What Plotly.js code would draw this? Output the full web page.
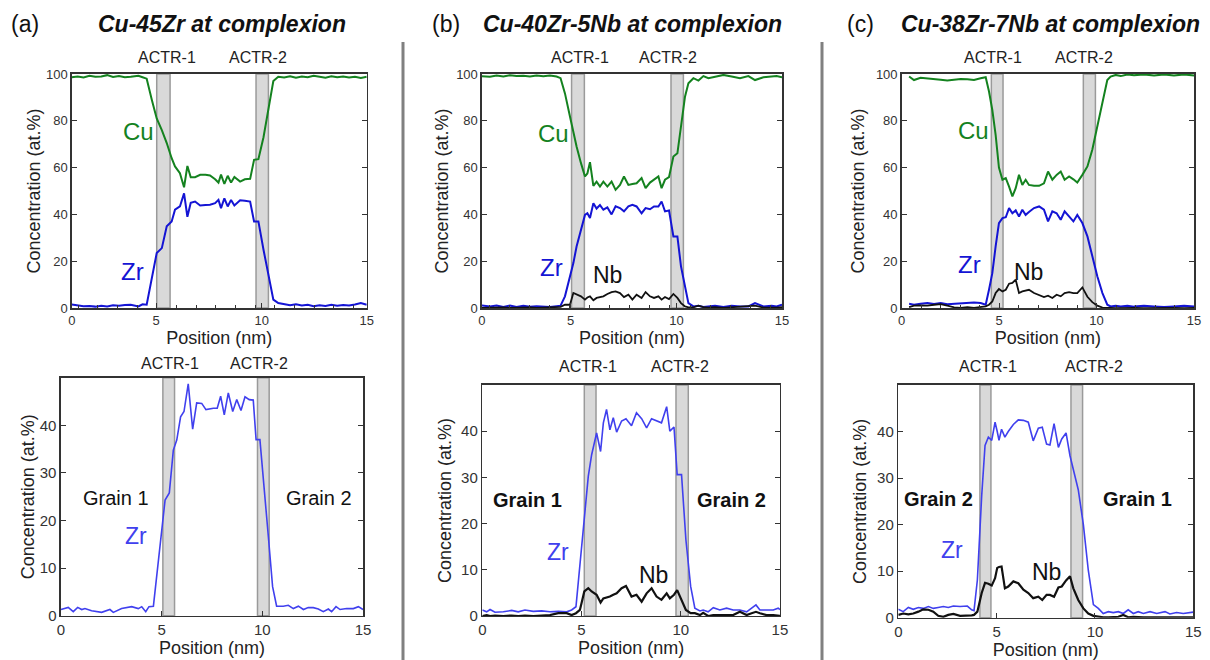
<!DOCTYPE html>
<html>
<head>
<meta charset="utf-8">
<script src="https://cdn.plot.ly/plotly-3.0.1.min.js"></script>
<style>html,body{margin:0;padding:0;background:#fff;}#chart{width:1210px;height:660px;}</style>
</head>
<body>
<div id="chart"></div>
<script>
// ---------------- DATA ----------------
// (a) Cu-45Zr, top panel
const aTop_x  = [0,0.3,0.6,0.9,1.2,1.5,1.8,2.1,2.4,2.7,3.0,3.39,3.6,3.81,4.07,4.32,4.58,4.83,5.08,5.25,5.5,5.71,5.88,6.05,6.27,6.53,6.8,7.03,7.29,7.46,7.59,7.76,7.93,8.1,8.27,8.42,8.56,8.8,9.07,9.27,9.49,9.75,10.0,10.25,10.5,10.8,11.1,11.4,11.7,12.0,12.3,12.6,12.9,13.2,13.5,13.8,14.1,14.4,14.7,15.0];
const aTop_cu = [98.6,98.9,98.5,99.2,98.8,98.9,99.5,98.7,99.1,98.6,98.8,99.2,98.6,98.0,89.0,81.0,76.0,70.5,64.0,60.5,57.6,51.6,60.7,55.9,55.9,56.9,56.9,56.6,55.0,53.6,57.0,53.0,56.5,53.6,56.0,54.8,54.0,55.0,55.2,63.3,63.6,73.0,86.0,97.0,98.8,98.5,99.0,98.4,98.9,98.6,99.2,98.7,98.4,99.0,98.6,98.9,98.5,98.8,98.3,98.8];
const aTop_zr = [1.5,1.2,0.8,0.9,0.6,1.0,0.7,1.2,1.0,1.3,1.4,0.7,1.6,1.4,13.5,23.5,25.6,34.9,37.0,42.0,43.4,49.0,39.0,45.0,45.5,43.8,44.0,44.1,44.8,46.2,42.7,46.9,43.4,46.2,43.8,45.0,46.0,45.8,45.5,37.0,37.0,24.9,13.5,3.6,2.1,1.5,1.2,1.6,1.1,1.4,0.8,1.2,0.9,1.4,1.0,1.3,1.1,1.5,2.1,1.4];
// (b) Cu-40Zr-5Nb, top panel
const bTop_x  = [0,0.4,0.73,1.07,1.4,1.73,2.07,2.4,2.73,3.07,3.4,3.73,3.93,4.15,4.4,4.57,4.73,4.95,5.15,5.27,5.4,5.57,5.73,5.9,6.07,6.27,6.48,6.68,6.9,7.1,7.32,7.52,7.73,7.98,8.18,8.4,8.6,8.82,8.98,9.15,9.35,9.57,9.77,9.95,10.15,10.32,10.57,10.82,11.07,11.32,11.65,12.07,12.48,12.9,13.32,13.65,14.07,14.48,14.73,15];
const bTop_cu = [99.0,98.8,99.3,98.9,99.5,99.1,99.2,98.9,99.3,99.0,99.3,98.9,98.2,91.7,81.8,74.7,69.0,61.9,56.2,57.5,62.3,52.2,54.0,51.9,54.0,51.9,54.0,50.5,52.6,56.2,52.6,53.0,53.3,55.5,51.2,53.6,54.8,56.2,51.2,54.8,55.9,64.7,66.1,77.5,90.3,96.0,98.2,97.2,99.1,98.2,98.9,99.6,98.9,98.2,99.1,97.4,98.6,99.1,99.1,98.6];
const bTop_zr = [1.1,0.7,1.1,0.4,1.1,0.4,1.0,0.5,0.8,0.6,0.4,0.8,1.0,5.0,13.5,19.2,26.3,33.4,39.8,40.5,38.5,44.8,42.5,44.0,42.0,43.0,40.0,43.5,42.7,41.3,43.4,44.1,43.4,40.5,42.7,42.2,43.4,43.4,45.5,41.3,41.7,30.6,30.6,17.8,9.2,2.1,0.7,1.0,0.4,0.7,1.0,0.4,1.0,0.7,0.7,2.1,0.7,1.0,0.7,1.4];
const bTop_nb = [0,0.2,0.1,0.3,0.1,0.2,0.1,0.3,0.1,0.2,0.1,0.3,0.5,1.4,1.4,6.4,5.7,5.0,3.6,4.5,5.0,3.3,4.3,4.6,5.0,6.0,6.8,7.1,6.4,4.7,5.7,3.6,5.7,4.3,6.8,5.0,4.3,5.0,3.6,4.7,3.8,6.0,4.3,2.1,0.7,0.3,0.3,1.0,0.4,0.2,0.4,0.1,0.3,0.4,0.6,1.0,0.2,0.1,0.2,0.4];
// (c) Cu-38Zr-7Nb, top panel
const cTop_x  = [0.38,0.63,0.97,1.32,1.66,2.0,2.34,2.69,3.03,3.37,3.71,4.05,4.31,4.48,4.65,4.82,4.99,5.17,5.34,5.51,5.68,5.85,6.02,6.19,6.36,6.53,6.79,7.05,7.3,7.51,7.73,7.95,8.16,8.36,8.59,8.81,9.01,9.27,9.53,9.78,10.04,10.3,10.55,10.72,10.98,11.24,11.58,11.92,12.43,12.95,13.46,13.97,14.49,15];
const cTop_cu = [98.9,97.4,98.4,98.2,97.9,97.5,97.2,97.6,97.9,97.8,97.4,98.2,98.6,92.5,84.6,74.0,60.0,54.8,55.5,51.9,47.7,51.2,56.9,52.6,54.8,52.6,52.2,52.2,53.3,58.3,54.8,56.9,58.3,54.8,56.2,55.0,53.6,56.9,60.5,67.6,77.5,88.2,97.4,98.9,99.6,99.1,99.8,99.5,99.8,99.4,99.8,99.4,99.8,99.4];
const cTop_zr = [1.8,1.4,1.8,2.1,1.7,2.1,1.6,1.8,2.1,2.1,2.4,2.1,1.4,7.8,14.9,26.3,36.3,38.4,38.8,42.7,40.5,41.7,39.1,42.0,39.8,41.0,42.7,43.4,42.0,37.0,41.3,40.5,37.7,41.3,39.1,37.0,39.8,36.3,30.6,22.0,13.5,6.4,1.4,0.7,1.0,0.7,1.0,0.6,1.0,0.7,0.4,0.7,1.0,0.7];
const cTop_nb = [0.4,1.0,1.1,1.0,1.4,1.7,1.0,0.3,0.1,0.4,0.1,0.4,0.7,1.4,2.8,6.4,8.1,7.1,7.8,10.4,10.7,12.1,6.4,7.1,7.5,7.8,6.4,5.7,4.7,5.3,4.3,5.7,5.0,6.4,6.8,6.4,6.4,8.8,4.8,2.5,1.0,0.2,0,0.1,0,0.1,0,0.1,0,0.1,0,0.1,0,0.1];
// (a) bottom panel
const aBot_x  = [0,0.36,0.61,0.83,1.03,1.19,1.52,2.02,2.43,2.6,3.01,3.51,3.84,4.01,4.21,4.37,4.59,4.72,4.92,5.17,5.38,5.58,5.75,5.94,6.11,6.32,6.54,6.74,6.99,7.2,7.57,7.76,7.93,8.11,8.31,8.53,8.73,8.94,9.14,9.35,9.55,9.69,9.88,10.05,10.3,10.51,10.71,11.04,11.29,11.54,11.79,12.04,12.28,12.53,12.78,13.03,13.28,13.44,13.66,13.86,14.19,14.52,14.77,15];
const aBot_zr = [1.3,1.75,0.85,1.75,1.3,1.5,1.05,0.7,1.3,0.7,1.5,1.9,1.5,1.9,0.85,1.9,2.0,6.8,15.2,24.3,25.8,34.8,36.9,41.8,42.9,48.7,39.2,44.7,44.6,43.3,43.6,43.6,46.1,42.2,46.8,42.9,45.4,43.1,46.0,45.4,45.3,37.0,37.0,29.2,16.6,6.1,2.0,2.0,2.2,1.5,2.0,1.3,1.7,1.7,1.4,0.85,1.4,0.85,1.9,1.3,1.5,1.5,1.9,1.3];
// (b) bottom panel
const bBot_x  = [0,0.22,0.39,0.64,1.06,1.48,1.81,2.15,2.57,2.99,3.41,3.83,4.25,4.5,4.72,4.92,5.14,5.34,5.51,5.76,5.96,6.1,6.26,6.43,6.6,6.77,7.02,7.24,7.52,7.77,8.03,8.28,8.53,8.78,9.03,9.29,9.45,9.66,9.82,10.04,10.26,10.5,10.71,10.97,11.13,11.38,11.64,11.97,12.31,12.64,12.98,13.32,13.57,13.79,13.99,14.32,14.66,14.91,15];
const bBot_zr = [1.3,0.9,1.4,0.8,0.9,1.2,0.9,1.3,1.0,1.1,0.9,1.0,0.9,1.3,2.0,10.7,20.8,30.2,34.9,39.6,35.6,41.8,44.7,40.3,42.9,39.8,42.2,42.7,41.2,44.0,42.7,40.7,42.7,42.2,41.8,45.3,40.0,40.9,30.6,30.6,16.5,6.4,1.7,1.1,1.3,0.9,1.8,1.3,1.7,1.3,1.3,0.9,1.7,2.4,1.3,1.3,1.3,1.7,1.4];
const bBot_nb = [0,0.2,0,0.1,0,0.1,0,0.1,0,0.1,0.2,0.6,0.6,0.2,0.6,1.3,5.3,6.0,5.3,4.6,2.9,3.8,4.0,4.2,4.6,4.9,6.0,6.5,4.2,4.6,3.1,4.9,6.0,4.2,3.5,4.9,3.8,4.6,5.6,3.5,1.3,0.6,0.6,0.2,0.7,0,0.2,0.2,0.2,0.2,0.9,0.2,0.6,0.9,0.6,0.2,0.2,0,0];
// (c) bottom panel
const cBot_x  = [0,0.25,0.51,0.76,1.02,1.27,1.53,1.78,2.03,2.29,2.54,2.8,3.14,3.51,3.73,3.85,4.02,4.24,4.41,4.58,4.75,4.92,5.03,5.12,5.25,5.42,5.59,5.85,6.1,6.36,6.61,6.86,7.12,7.32,7.54,7.71,7.92,8.14,8.31,8.53,8.73,8.9,9.15,9.41,9.66,9.92,10.17,10.42,10.68,10.93,11.19,11.44,11.69,11.95,12.2,12.46,12.8,13.14,13.56,13.81,14.15,14.49,14.75,15];
const cBot_zr = [1.8,1.3,2.2,1.8,2.2,2.0,2.4,2.0,2.2,2.4,2.2,2.5,2.4,2.5,1.7,1.5,8.1,26.2,37.0,38.8,38.1,42.0,40.0,38.1,40.5,38.8,40.0,41.5,42.5,42.4,42.0,38.0,40.7,40.9,37.3,37.1,41.7,36.6,38.4,39.7,34.8,32.1,27.5,20.0,10.2,2.8,2.0,0.9,1.3,1.1,1.3,0.9,1.7,0.9,1.3,0.9,1.3,0.9,1.3,0.8,1.1,0.9,1.1,1.2];
const cBot_nb = [0.6,0.9,0.7,0.9,1.3,1.8,1.7,1.3,0.4,0.2,0.6,0.8,0.4,0.4,0.5,0.6,1.3,5.3,7.5,7.3,6.9,8.5,10.7,10.9,11.0,6.3,6.7,7.8,7.4,6.0,5.3,4.2,4.5,3.8,4.9,4.9,4.5,6.5,6.7,8.0,8.9,6.3,3.8,2.0,0.9,0.4,0.2,0.1,0.1,0.1,0.2,0.6,0.1,0.2,0.1,0.1,0.1,0.1,0.1,0.1,0.1,0.1,0.1,0.1];
// ACTR (complexion) regions [start, end] in nm, per panel
const aTop_actr = [[4.32,5.0],[9.37,10.0]];
const bTop_actr = [[4.48,5.12],[9.45,10.07]];
const cTop_actr = [[4.6,5.2],[9.32,9.94]];
const aBot_actr = [[5.06,5.64],[9.76,10.34]];
const bBot_actr = [[5.14,5.73],[9.76,10.38]];
const cBot_actr = [[4.15,4.71],[8.78,9.37]];
// Tick labels
const xTickText = ['0','5','10','15'];
const yTopTicks = [0,20,40,60,80,100];
const yBotTicks = [0,10,20,30,40];
const panelTitles = ['Cu-45Zr at complexion','Cu-40Zr-5Nb at complexion','Cu-38Zr-7Nb at complexion'];
const panelLetters = ['(a)','(b)','(c)'];

// ---------------- STYLE ----------------
const FONT = '"Liberation Sans", Arial, Helvetica, sans-serif';
const CU = '#14821f', ZR = '#1414d4', ZR2 = '#4040ee', NB = '#111111';
const AX = '#333333';

function line(x, y, color, width, ax) {
  return {type:'scatter', mode:'lines', x:x, y:y, xaxis:'x'+ax, yaxis:'y'+ax,
          line:{color:color, width:width}, hoverinfo:'skip', showlegend:false};
}

const traces = [
  line(aTop_x, aTop_cu, CU, 2, ''), line(aTop_x, aTop_zr, ZR, 2, ''),
  line(bTop_x, bTop_cu, CU, 2, '2'), line(bTop_x, bTop_zr, ZR, 2, '2'), line(bTop_x, bTop_nb, NB, 1.8, '2'),
  line(cTop_x, cTop_cu, CU, 2, '3'), line(cTop_x, cTop_zr, ZR, 2, '3'), line(cTop_x, cTop_nb, NB, 1.8, '3'),
  line(aBot_x, aBot_zr, ZR2, 1.6, '4'),
  line(bBot_x, bBot_zr, ZR2, 1.6, '5'), line(bBot_x, bBot_nb, NB, 2.2, '5'),
  line(cBot_x, cBot_zr, ZR2, 1.6, '6'), line(cBot_x, cBot_nb, NB, 2.2, '6')
];

function xaxis(dom, anchor, tickvals, minor0, fs) {
  const a = {domain:dom, anchor:anchor, range:[0,15], showline:true, mirror:true, linecolor:AX, linewidth:1.5,
    ticks:'inside', ticklen:5, tickcolor:AX, tickwidth:1, tickmode:'array', tickvals:tickvals, ticktext:xTickText,
    tickfont:{family:FONT, size:fs, color:AX}, showgrid:false, zeroline:false, fixedrange:true,
    title:{text:'Position (nm)', font:{family:FONT, size:18, color:'#222'}, standoff:0}};
  if (minor0 !== null) a.minor = {ticks:'inside', ticklen:3, tickcolor:AX, dtick:1, tick0:minor0, showgrid:false};
  return a;
}
function yaxis(dom, anchor, range, ticks, fs, so) {
  return {domain:dom, anchor:anchor, range:range, showline:true, mirror:'ticks', linecolor:AX, linewidth:1.5,
    ticks:'inside', ticklen:5, tickcolor:AX, tickwidth:1, tickmode:'array', tickvals:ticks,
    tickfont:{family:FONT, size:fs, color:AX}, showgrid:false, zeroline:false, fixedrange:true,
    title:{text:'Concentration (at.%)', font:{family:FONT, size:18, color:'#222'}, standoff:so}};
}

const D = {
  aT:{x:[0.0593,0.3031], y:[0.5333,0.8879]},
  bT:{x:[0.3983,0.6463], y:[0.5333,0.8879]},
  cT:{x:[0.7452,0.9868], y:[0.5333,0.8879]},
  aB:{x:[0.0504,0.3000], y:[0.0671,0.4277]},
  bB:{x:[0.3986,0.6446], y:[0.0667,0.4167]},
  cB:{x:[0.7424,0.9862], y:[0.0641,0.4167]}
};

const shapes = [];
function bands(list, ax) {
  list.forEach(b => shapes.push({type:'rect', xref:'x'+ax, yref:'y'+ax+' domain', x0:b[0], x1:b[1], y0:0, y1:1,
    fillcolor:'#d9d9d9', line:{color:'#9a9a9a', width:1.5}, layer:'below'}));
}
bands(aTop_actr,''); bands(bTop_actr,'2'); bands(cTop_actr,'3');
bands(aBot_actr,'4'); bands(bBot_actr,'5'); bands(cBot_actr,'6');
// separators
[403/1210, 822/1210].forEach(x => shapes.push({type:'line', xref:'paper', yref:'paper', x0:x, x1:x, y0:0, y1:1-42/660,
  line:{color:'#808080', width:3}}));

const ann = [];
function txt(text, x, y, ax, size, color, opts) {
  ann.push(Object.assign({text:text, x:x, y:y, xref:'x'+ax, yref:'y'+ax, showarrow:false,
    font:{family:FONT, size:size, color:color}, xanchor:'center', yanchor:'middle'}, opts||{}));
}
function actr(x1, x2, ax, ypx) {
  const y = 1 - ypx/660;
  [['ACTR-1',x1],['ACTR-2',x2]].forEach(p => ann.push({text:p[0], x:p[1], y:y, xref:'x'+ax, yref:'paper',
    showarrow:false, font:{family:FONT, size:16, color:'#222'}, xanchor:'center', yanchor:'middle'}));
}
// element labels
txt('Cu', 3.38, 75.3, '', 24, CU); txt('Zr', 3.09, 15.5, '', 24, ZR);
txt('Cu', 3.57, 74.7, '2', 24, CU); txt('Zr', 3.48, 17.3, '2', 24, ZR); txt('Nb', 6.3, 14.0, '2', 23, NB);
txt('Cu', 3.67, 75.7, '3', 24, CU); txt('Zr', 3.49, 18.7, '3', 24, ZR); txt('Nb', 6.5, 15.2, '3', 23, NB);
txt('Grain 1', 2.72, 24.8, '4', 20, '#111'); txt('Grain 2', 12.82, 24.8, '4', 20, '#111'); txt('Zr', 3.74, 16.8, '4', 23, ZR2);
txt('<b>Grain 1</b>', 2.28, 25.2, '5', 20, '#111'); txt('<b>Grain 2</b>', 12.54, 25.2, '5', 20, '#111');
txt('Zr', 3.8, 13.8, '5', 23, ZR2); txt('Nb', 8.61, 8.9, '5', 23, NB);
txt('<b>Grain 2</b>', 2.03, 25.4, '6', 20, '#111'); txt('<b>Grain 1</b>', 12.16, 25.4, '6', 20, '#111');
txt('Zr', 2.71, 14.5, '6', 23, ZR2); txt('Nb', 7.55, 9.8, '6', 23, NB);
// ACTR labels
actr(4.85, 9.47, '', 57); actr(4.9, 9.3, '2', 57); actr(4.68, 9.36, '3', 57);
actr(5.41, 9.84, '4', 363); actr(5.33, 9.96, '5', 366); actr(4.56, 9.95, '6', 366);
// panel letters & titles
[[25,222],[446,632],[860,1050]].forEach((p,i) => {
  ann.push({text:panelLetters[i], x:p[0]/1210, y:1-24/660, xref:'paper', yref:'paper', showarrow:false,
    font:{family:FONT, size:23, color:'#111'}, xanchor:'center', yanchor:'middle'});
  ann.push({text:'<b><i>'+panelTitles[i]+'</i></b>', x:p[1]/1210, y:1-24/660, xref:'paper', yref:'paper', showarrow:false,
    font:{family:FONT, size:23, color:'#111'}, xanchor:'center', yanchor:'middle'});
});

const layout = {
  width:1210, height:660, margin:{l:0,r:0,t:0,b:0}, paper_bgcolor:'#fff', plot_bgcolor:'rgba(0,0,0,0)',
  showlegend:false, font:{family:FONT},
  xaxis:  xaxis(D.aT.x, 'y',  [0,4.29,9.66,15], 0.32, 13),
  yaxis:  yaxis(D.aT.y, 'x',  [0,100], yTopTicks, 13, 0),
  xaxis2: xaxis(D.bT.x, 'y2', [0,4.43,9.73,15], 0.4, 13),
  yaxis2: yaxis(D.bT.y, 'x2', [0,100], yTopTicks, 13, 3),
  xaxis3: xaxis(D.cT.x, 'y3', [0,5,10,15], 0, 13),
  yaxis3: yaxis(D.cT.y, 'x3', [0,100], yTopTicks, 13, 6),
  xaxis4: xaxis(D.aB.x, 'y4', [0,5,10,15], null, 15),
  yaxis4: yaxis(D.aB.y, 'x4', [0,50], yBotTicks, 15, 0),
  xaxis5: xaxis(D.bB.x, 'y5', [0,5,10,15], null, 15),
  yaxis5: yaxis(D.bB.y, 'x5', [0,50], yBotTicks, 15, 5),
  xaxis6: xaxis(D.cB.x, 'y6', [0,5,10,15], null, 15),
  yaxis6: yaxis(D.cB.y, 'x6', [0,50], yBotTicks, 15, 6),
  shapes:shapes, annotations:ann
};
Plotly.newPlot('chart', traces, layout, {displayModeBar:false, staticPlot:true});
</script>
</body>
</html>
